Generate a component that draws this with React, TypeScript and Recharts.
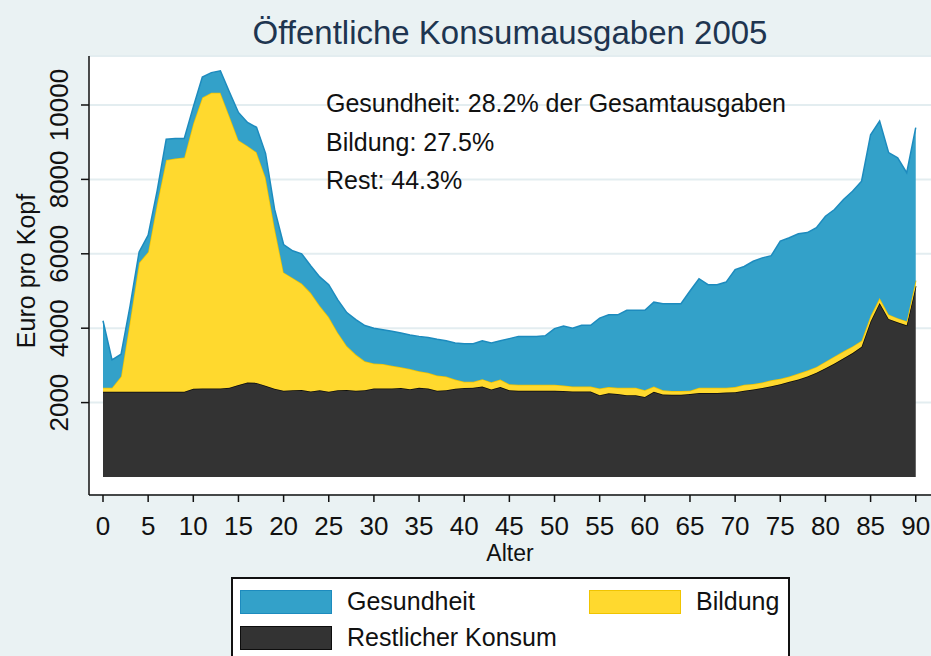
import React from 'react'
import { AreaChart, Area, XAxis, YAxis, CartesianGrid } from 'recharts'

// Alter 0..90, Euro pro Kopf (gestapelt: Rest, Bildung, Gesundheit)
const ages = [
  0, 1, 2, 3, 4, 5, 6, 7, 8, 9, 10, 11, 12, 13, 14, 15, 16, 17, 18, 19,
  20, 21, 22, 23, 24, 25, 26, 27, 28, 29, 30, 31, 32, 33, 34, 35, 36, 37, 38, 39,
  40, 41, 42, 43, 44, 45, 46, 47, 48, 49, 50, 51, 52, 53, 54, 55, 56, 57, 58, 59,
  60, 61, 62, 63, 64, 65, 66, 67, 68, 69, 70, 71, 72, 73, 74, 75, 76, 77, 78, 79,
  80, 81, 82, 83, 84, 85, 86, 87, 88, 89, 90,
]

const rest = [
  2290, 2290, 2290, 2290, 2290, 2290, 2290, 2290, 2290, 2290, 2370, 2380, 2380, 2380, 2400, 2470, 2540, 2530, 2450, 2370,
  2320, 2330, 2340, 2300, 2330, 2290, 2330, 2340, 2320, 2330, 2380, 2380, 2380, 2390, 2360, 2400, 2380, 2320, 2330, 2370,
  2390, 2400, 2430, 2350, 2420, 2330, 2320, 2320, 2320, 2320, 2320, 2310, 2300, 2300, 2300, 2200, 2250, 2230, 2200, 2200,
  2150, 2290, 2220, 2210, 2210, 2230, 2260, 2260, 2260, 2270, 2280, 2320, 2350, 2390, 2440, 2490, 2560, 2620, 2700, 2800,
  2920, 3050, 3190, 3330, 3500, 4180, 4680, 4250, 4160, 4080, 5130,
]

const bildung = [
  110, 110, 410, 1910, 3470, 3760, 5060, 6230, 6270, 6300, 7130, 7820, 7950, 7950, 7300, 6580, 6360, 6200, 5600, 4330,
  3180, 3020, 2860, 2650, 2270, 2010, 1550, 1180, 970, 780, 670, 660, 610, 560, 540, 440, 420, 410, 370, 250,
  170, 160, 200, 200, 200, 160, 160, 160, 160, 160, 160, 150, 130, 130, 130, 180, 170, 170, 200, 200,
  180, 140, 110, 100, 100, 90, 140, 140, 140, 130, 140, 160, 150, 150, 160, 150, 140, 160, 160, 160,
  180, 190, 190, 180, 160, 150, 130, 120, 110, 110, 150,
]

const gesundheit = [
  1800, 750, 600, 400, 290, 450, 350, 560, 540, 510, 450, 550, 540, 590, 650, 750, 630, 670, 650, 500,
  750, 730, 800, 730, 780, 870, 880, 900, 940, 960, 950, 920, 930, 920, 920, 940, 950, 970, 960, 980,
  1020, 1020, 1030, 1050, 1040, 1230, 1300, 1300, 1300, 1320, 1510, 1600, 1570, 1650, 1650, 1890, 1940, 1960, 2080, 2080,
  2150, 2270, 2330, 2350, 2350, 2680, 2930, 2770, 2770, 2840, 3155, 3180, 3300, 3350, 3350, 3700, 3730, 3760, 3710, 3740,
  3910, 3950, 4080, 4170, 4290, 4870, 4760, 4350, 4310, 3990, 4110,
]

const xTicks = [0, 5, 10, 15, 20, 25, 30, 35, 40, 45, 50, 55, 60, 65, 70, 75, 80, 85, 90]
const yTicks = [2000, 4000, 6000, 8000, 10000]

const notes = ['Gesundheit: 28.2% der Gesamtausgaben', 'Bildung: 27.5%', 'Rest: 44.3%']

const data = ages.map((age, i) => ({
  age,
  rest: rest[i],
  bildung: bildung[i],
  gesundheit: gesundheit[i],
}))

const FONT = '"Liberation Sans", Arial, sans-serif'
const BG = '#EAF2F3'

const XTick = (props: any) => {
  const { x, y, payload } = props
  return (
    <text x={x} y={y + 33} textAnchor="middle" fontSize={26} fontFamily={FONT} fill="#111">
      {payload.value}
    </text>
  )
}

const YTick = (props: any) => {
  const { x, y, payload } = props
  const bx = x - 13
  return (
    <text
      x={bx}
      y={y}
      transform={`rotate(-90, ${bx}, ${y})`}
      textAnchor="middle"
      fontSize={26}
      fontFamily={FONT}
      fill="#111"
    >
      {payload.value}
    </text>
  )
}

export default function App() {
  return (
    <div
      style={{
        position: 'absolute',
        left: 0,
        top: 0,
        width: 931,
        height: 656,
        background: BG,
        overflow: 'hidden',
      }}
    >
      <AreaChart width={931} height={656} data={data} margin={{ top: 56, right: 0, bottom: 0, left: 0 }}>
        <CartesianGrid vertical={false} stroke="#E3EDF0" strokeWidth={2} fill="#FFFFFF" />
        <XAxis
          type="number"
          dataKey="age"
          domain={[-1.55, 91.69]}
          ticks={xTicks}
          interval={0}
          height={161}
          tickSize={7}
          tickMargin={0}
          tick={<XTick />}
          axisLine={{ stroke: '#111', strokeWidth: 1.5 }}
          tickLine={{ stroke: '#111', strokeWidth: 1.5 }}
        />
        <YAxis
          type="number"
          domain={[-484, 11317]}
          ticks={yTicks}
          interval={0}
          width={89}
          tickSize={8}
          tickMargin={0}
          tick={<YTick />}
          axisLine={{ stroke: '#111', strokeWidth: 1.5 }}
          tickLine={{ stroke: '#111', strokeWidth: 1.5 }}
        />
        <Area
          type="linear"
          dataKey="rest"
          stackId="1"
          fill="#333333"
          fillOpacity={1}
          stroke="#0d0d0d"
          strokeWidth={1.5}
          isAnimationActive={false}
        />
        <Area
          type="linear"
          dataKey="bildung"
          stackId="1"
          fill="#FFD92E"
          fillOpacity={1}
          stroke="#F0C400"
          strokeWidth={1.5}
          isAnimationActive={false}
        />
        <Area
          type="linear"
          dataKey="gesundheit"
          stackId="1"
          fill="#33A1C9"
          fillOpacity={1}
          stroke="#1D8BBE"
          strokeWidth={1.5}
          isAnimationActive={false}
        />
      </AreaChart>

      <svg
        width={931}
        height={656}
        style={{ position: 'absolute', left: 0, top: 0, pointerEvents: 'none' }}
        fontFamily={FONT}
      >
        <text x={510} y={44} textAnchor="middle" fontSize={33} fill="#1E3550">
          Öffentliche Konsumausgaben 2005
        </text>
        {notes.map((n, i) => (
          <text key={n} x={326} y={112 + i * 38.5} fontSize={25} fill="#111">
            {n}
          </text>
        ))}
        <text x={510} y={561} textAnchor="middle" fontSize={23} fill="#111">
          Alter
        </text>
        <text
          x={35}
          y={271}
          transform="rotate(-90, 35, 271)"
          textAnchor="middle"
          fontSize={25}
          fill="#111"
        >
          Euro pro Kopf
        </text>

        <rect x={232} y={578} width={557} height={90} fill="#FFFFFF" stroke="#111" strokeWidth={2} />
        <rect x={240.5} y={590.5} width={91} height={23} fill="#33A1C9" stroke="#1D8BBE" />
        <text x={347} y={610} fontSize={25} fill="#111">Gesundheit</text>
        <rect x={589.5} y={590.5} width={91} height={23} fill="#FFD92E" stroke="#F0C400" />
        <text x={696} y={610} fontSize={25} fill="#111">Bildung</text>
        <rect x={240.5} y={626.5} width={91} height={23} fill="#333333" stroke="#0d0d0d" />
        <text x={347} y={646} fontSize={25} fill="#111">Restlicher Konsum</text>
      </svg>
    </div>
  )
}
